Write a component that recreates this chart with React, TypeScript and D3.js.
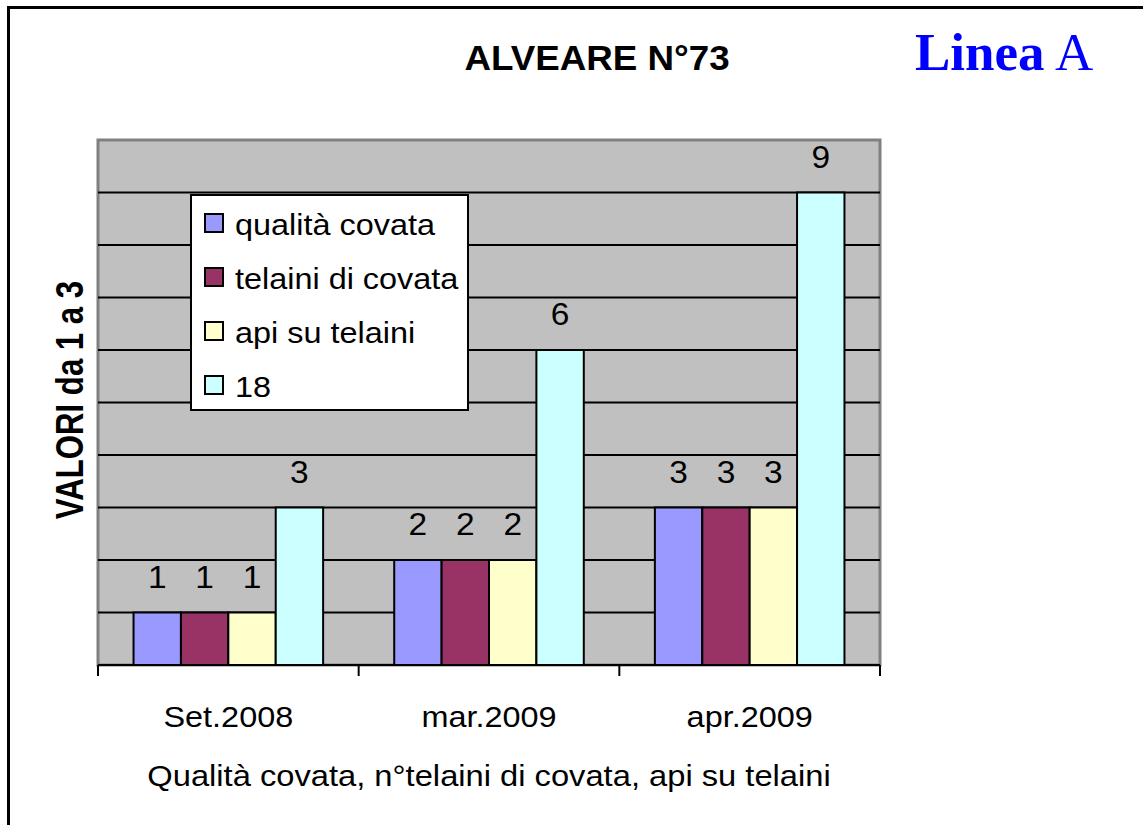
import { useMemo } from 'react';
import * as d3 from 'd3';

const CATEGORIES = ['Set.2008', 'mar.2009', 'apr.2009'];
const SERIES = ['qualità covata', 'telaini di covata', 'api su telaini', '18'];
const QUALITA_COVATA = [1, 2, 3];
const TELAINI_COVATA = [1, 2, 3];
const API_TELAINI = [1, 2, 3];
const SERIE_18 = [3, 6, 9];
const Y_TICKS = [1, 2, 3, 4, 5, 6, 7, 8, 9];

const SERIES_COLORS = ['#9999FF', '#993366', '#FFFFCC', '#CCFFFF'];

const W = 1143;
const H = 825;
const PLOT = { left: 98, right: 880, top: 140, bottom: 665 };
const SANS = '"Liberation Sans", Arial, sans-serif';
const SERIF = '"Liberation Serif", "Times New Roman", serif';
// the source picture is a bit wider than tall, text looks stretched sideways
const STRETCH = 1.08;

export default function App() {
  const values = [QUALITA_COVATA, TELAINI_COVATA, API_TELAINI, SERIE_18];

  const x0 = useMemo(
    () => d3.scaleBand<string>().domain(CATEGORIES).range([PLOT.left, PLOT.right]).padding(0),
    [],
  );
  const x1 = useMemo(
    () =>
      d3
        .scaleBand<string>()
        .domain(SERIES)
        .range([0, x0.bandwidth()])
        .paddingInner(0)
        .paddingOuter(0.75),
    [x0],
  );
  const y = useMemo(
    () => d3.scaleLinear().domain([0, 10]).range([PLOT.bottom, PLOT.top]),
    [],
  );

  const tickXs = [...CATEGORIES.map((c) => x0(c) ?? 0), PLOT.right];

  return (
    <svg
      width={W}
      height={H}
      style={{ position: 'absolute', left: 0, top: 0, background: '#fff' }}
    >
      {/* outer frame, runs off the right and bottom edge */}
      <rect x={8.5} y={7.5} width={W + 20} height={H + 20} fill="none" stroke="#000" strokeWidth={3} />

      <text
        transform={`translate(597,70) scale(1.05,1)`}
        textAnchor="middle"
        fontFamily={SANS}
        fontWeight="bold"
        fontSize={35}
      >
        ALVEARE N°73
      </text>
      <text x={915} y={70} fontFamily={SERIF} fontSize={53} fill="#0000FF">
        <tspan fontWeight="bold">Linea</tspan> A
      </text>

      {/* plot area */}
      <rect
        x={PLOT.left}
        y={PLOT.top}
        width={PLOT.right - PLOT.left}
        height={PLOT.bottom - PLOT.top}
        fill="#C0C0C0"
        stroke="#808080"
        strokeWidth={3}
      />
      {Y_TICKS.map((t) => (
        <line
          key={t}
          x1={PLOT.left}
          x2={PLOT.right}
          y1={y(t)}
          y2={y(t)}
          stroke="#000"
          strokeWidth={2}
        />
      ))}

      {CATEGORIES.map((cat, ci) => (
        <g key={cat} transform={`translate(${x0(cat)},0)`}>
          {SERIES.map((s, si) => {
            const v = values[si][ci];
            const bx = x1(s) ?? 0;
            return (
              <g key={s}>
                <rect
                  x={bx}
                  y={y(v)}
                  width={x1.bandwidth()}
                  height={y(0) - y(v)}
                  fill={SERIES_COLORS[si]}
                  stroke="#000"
                  strokeWidth={2}
                />
                <text
                  transform={`translate(${bx + x1.bandwidth() / 2},${y(v) - 25}) scale(${STRETCH},1)`}
                  textAnchor="middle"
                  fontFamily={SANS}
                  fontSize={31}
                >
                  {v}
                </text>
              </g>
            );
          })}
        </g>
      ))}

      {/* x axis */}
      <line x1={PLOT.left} x2={PLOT.right} y1={PLOT.bottom} y2={PLOT.bottom} stroke="#000" strokeWidth={2} />
      {tickXs.map((tx, i) => (
        <line key={i} x1={tx} x2={tx} y1={PLOT.bottom} y2={PLOT.bottom + 11} stroke="#000" strokeWidth={2} />
      ))}
      {CATEGORIES.map((cat) => (
        <text
          key={cat}
          transform={`translate(${(x0(cat) ?? 0) + x0.bandwidth() / 2},727) scale(${STRETCH},1)`}
          textAnchor="middle"
          fontFamily={SANS}
          fontSize={30}
        >
          {cat}
        </text>
      ))}
      <text
        transform={`translate(489,786) scale(1.09,1)`}
        textAnchor="middle"
        fontFamily={SANS}
        fontSize={30}
      >
        Qualità covata, n°telaini di covata, api su telaini
      </text>
      <text
        transform={`translate(83,400) rotate(-90) scale(0.82,1)`}
        textAnchor="middle"
        fontFamily={SANS}
        fontWeight="bold"
        fontSize={38}
      >
        VALORI da 1 a 3
      </text>

      {/* legend */}
      <rect x={191} y={195} width={277} height={215} fill="#fff" stroke="#000" strokeWidth={2} />
      {SERIES.map((s, i) => {
        const cy = 223 + i * 54;
        return (
          <g key={s}>
            <rect x={205} y={cy - 9} width={18} height={18} fill={SERIES_COLORS[i]} stroke="#000" strokeWidth={2} />
            <text
              transform={`translate(235,${cy + 12}) scale(${STRETCH},1)`}
              fontFamily={SANS}
              fontSize={30}
            >
              {s}
            </text>
          </g>
        );
      })}
    </svg>
  );
}
